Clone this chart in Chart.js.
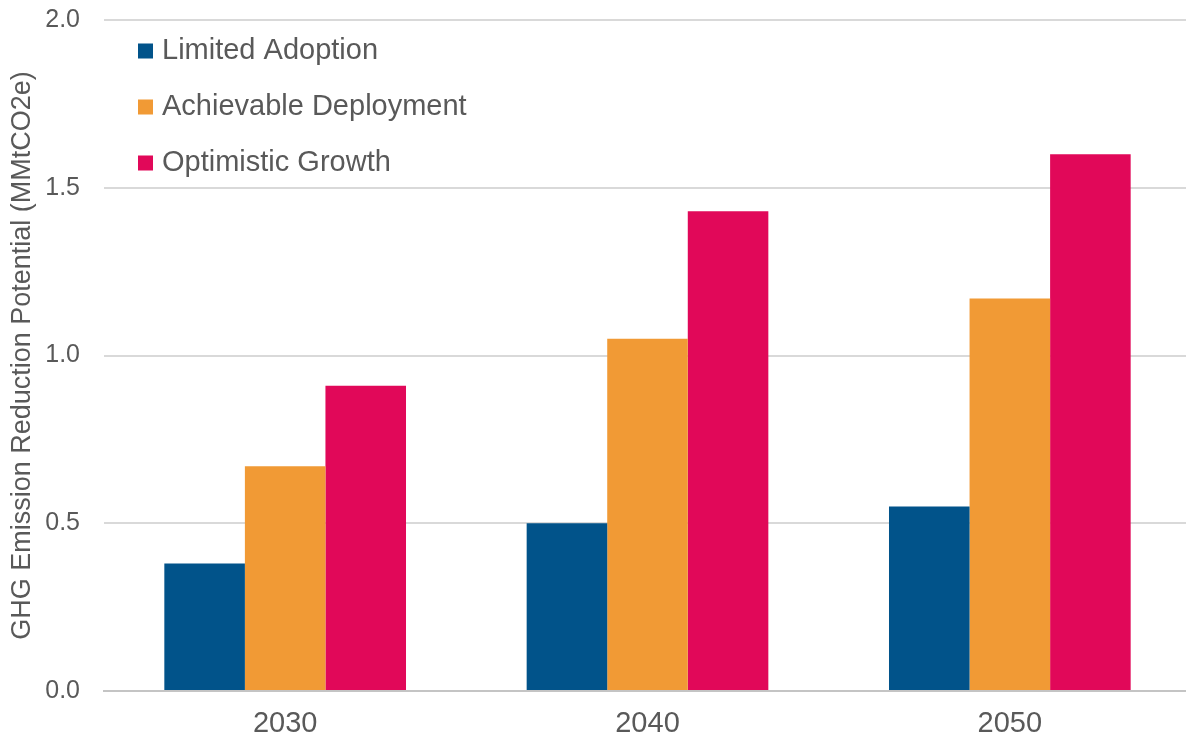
<!DOCTYPE html>
<html>
<head>
<meta charset="utf-8">
<title>GHG Emission Reduction Potential</title>
<script src="https://cdn.jsdelivr.net/npm/chart.js@4.4.1/dist/chart.umd.min.js"></script>
<style>
  html, body { margin: 0; padding: 0; background: #fff; overflow: hidden; }
  #wrap { position: relative; width: 1191px; height: 745px; }
</style>
</head>
<body>
<div id="wrap"><canvas id="chart"></canvas></div>
<script>
  // Scenario results (MMtCO2e)
  const years = ['2030', '2040', '2050'];
  const seriesNames = ['Limited Adoption', 'Achievable Deployment', 'Optimistic Growth'];
  const limitedAdoption = [0.38, 0.50, 0.55];
  const achievableDeployment = [0.67, 1.05, 1.17];
  const optimisticGrowth = [0.91, 1.43, 1.60];
  const yTicks = [0, 0.5, 1.0, 1.5, 2.0];

  const colors = ['#01538A', '#F19A35', '#E10859'];
  const textGray = '#595959';
  const fontFamily = '"Liberation Sans", Arial, Helvetica, sans-serif';

  Chart.defaults.font.family = fontFamily;
  Chart.defaults.color = textGray;

  // Legend drawn as a stacked list inside the plot, top-left
  const insideLegend = {
    id: 'insideLegend',
    afterDatasetsDraw(chart) {
      const { ctx, chartArea } = chart;
      const x0 = chartArea.left + 34;
      const y0 = chartArea.top + 31;
      const rowGap = 56;
      const box = 15;
      ctx.save();
      ctx.font = '29px ' + fontFamily;
      ctx.textBaseline = 'middle';
      ctx.textAlign = 'left';
      chart.data.datasets.forEach((ds, i) => {
        const y = y0 + i * rowGap;
        ctx.fillStyle = ds.backgroundColor;
        ctx.fillRect(x0, y - box / 2, box, box);
        ctx.fillStyle = textGray;
        ctx.fillText(ds.label, x0 + 24, y);
      });
      ctx.restore();
    }
  };

  const values = [limitedAdoption, achievableDeployment, optimisticGrowth];

  new Chart(document.getElementById('chart'), {
    type: 'bar',
    data: {
      labels: years,
      datasets: seriesNames.map((name, i) => ({
        label: name,
        data: values[i],
        backgroundColor: colors[i],
        borderWidth: 0,
        categoryPercentage: 0.667,
        barPercentage: 1.0,
      })),
    },
    options: {
      responsive: true,
      maintainAspectRatio: false,
      animation: false,
      layout: { padding: { top: 20, right: 0, bottom: 0, left: 0 } },
      plugins: {
        legend: { display: false },
        tooltip: { enabled: false },
      },
      scales: {
        x: {
          grid: { display: false, drawTicks: false },
          border: { display: true, color: '#c4c4c4', width: 2 },
          ticks: { font: { size: 29 }, color: textGray, padding: 16 },
          afterFit: (scale) => { scale.height = 54; },
        },
        y: {
          min: 0,
          max: 2,
          afterBuildTicks: (scale) => { scale.ticks = yTicks.map(v => ({ value: v })); },
          grid: {
            drawTicks: false,
            lineWidth: 2,
            color: (c) => (c.tick && c.tick.value === 0 ? '#c4c4c4' : '#d9d9d9'),
          },
          border: { display: false },
          ticks: {
            font: { size: 25 },
            color: textGray,
            padding: 24,
            callback: (v) => Number(v).toFixed(1),
          },
          title: {
            display: true,
            text: 'GHG Emission Reduction Potential (MMtCO2e)',
            font: { size: 27 },
            color: textGray,
            padding: { top: 6, bottom: 0 },
          },
          afterFit: (scale) => {
            scale.width = 104;
            scale.paddingTop = 0;
            scale.paddingBottom = 0;
          },
        },
      },
    },
    plugins: [insideLegend],
  });
</script>
</body>
</html>
